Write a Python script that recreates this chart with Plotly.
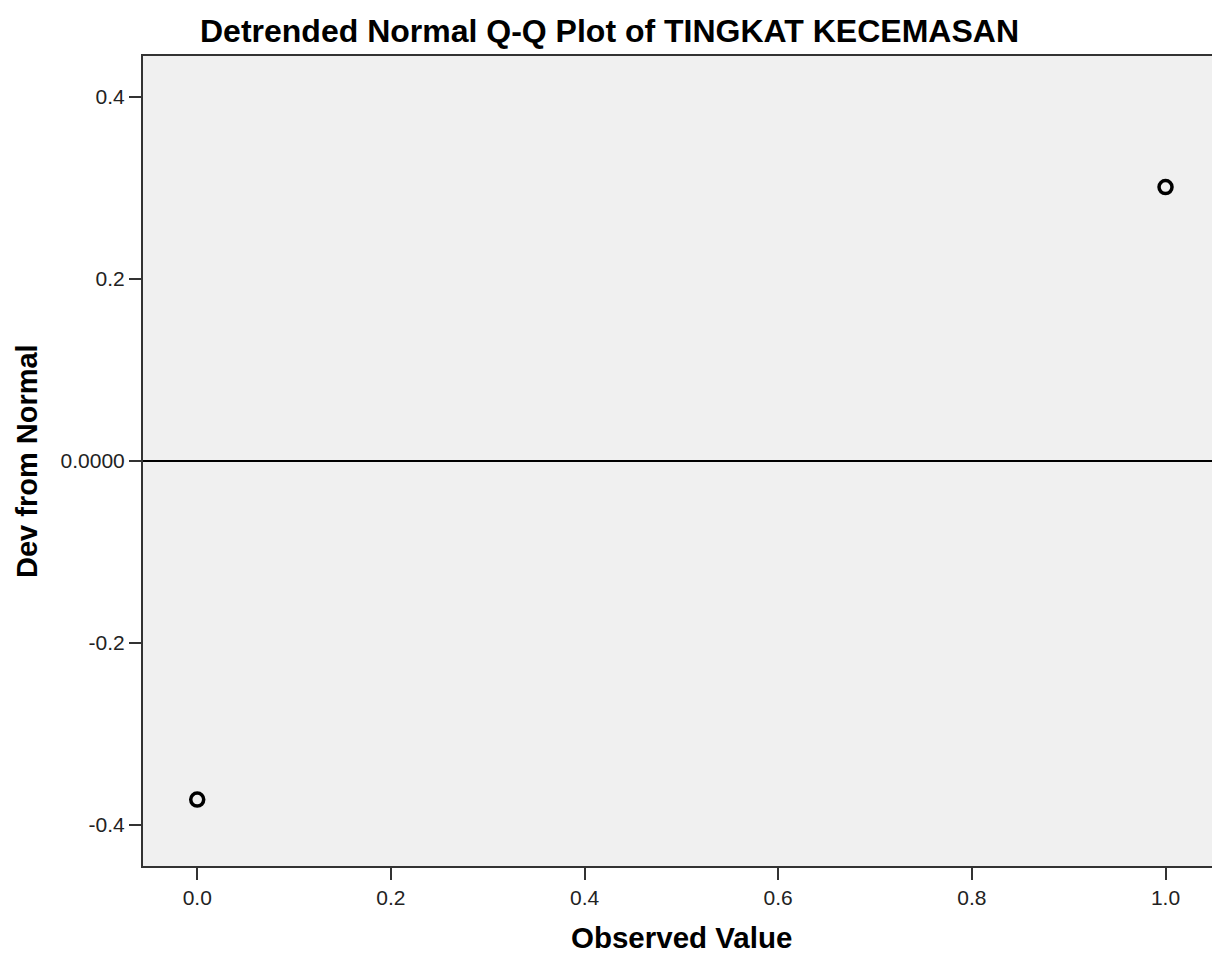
import plotly.graph_objects as go

# Detrended normal Q-Q data
observed_value = [0.0, 1.0]
dev_from_normal = [-0.372, 0.301]

y_tick_vals = [0.4, 0.2, 0.0, -0.2, -0.4]
y_tick_text = ["0.4", "0.2", "0.0000", "-0.2", "-0.4"]
x_tick_vals = [0.0, 0.2, 0.4, 0.6, 0.8, 1.0]
x_tick_text = ["0.0", "0.2", "0.4", "0.6", "0.8", "1.0"]

_FONT = "Arial, Liberation Sans, sans-serif"
_AXIS_COLOR = "#333333"

fig = go.Figure()
fig.add_trace(go.Scatter(
    x=observed_value, y=dev_from_normal,
    mode="markers",
    marker=dict(symbol="circle-open", size=13, color="black", line=dict(width=3.5)),
    showlegend=False,
    hoverinfo="x+y",
))

fig.update_xaxes(
    range=[-0.056, 1.048],
    tickvals=x_tick_vals, ticktext=x_tick_text,
    ticks="outside", ticklen=12, tickwidth=2, tickcolor=_AXIS_COLOR,
    showline=True, linecolor=_AXIS_COLOR, linewidth=2, mirror=True,
    showgrid=False, zeroline=False,
    tickfont=dict(size=21, color="#222222"),
)
fig.update_yaxes(
    range=[-0.445, 0.445],
    tickvals=y_tick_vals, ticktext=y_tick_text,
    ticks="outside", ticklen=12, tickwidth=2, tickcolor=_AXIS_COLOR,
    showline=True, linecolor=_AXIS_COLOR, linewidth=2, mirror=False,
    showgrid=False,
    zeroline=True, zerolinecolor="black", zerolinewidth=2,
    tickfont=dict(size=21, color="#222222"),
)

# Title and axis titles placed by hand to match the reference
fig.add_annotation(
    text="<b>Detrended Normal Q-Q Plot of TINGKAT KECEMASAN</b>",
    xref="paper", yref="paper", x=(609 - 143) / (1212 - 143), y=1,
    yanchor="middle", yshift=25, showarrow=False,
    font=dict(size=32, color="black"),
)
fig.add_annotation(
    text="<b>Observed Value</b>",
    xref="x", yref="paper", x=0.5, y=0,
    yanchor="middle", yshift=-71, showarrow=False,
    font=dict(size=29.5, color="black"),
)
fig.add_annotation(
    text="<b>Dev from Normal</b>",
    xref="paper", yref="y", x=0, y=0,
    xanchor="center", xshift=-116, textangle=-90, showarrow=False,
    font=dict(size=29, color="black"),
)

fig.update_layout(
    width=1212, height=958,
    margin=dict(l=143, r=0, t=56, b=92),
    plot_bgcolor="#F0F0F0",
    paper_bgcolor="white",
    font=dict(family=_FONT, size=21, color="black"),
)

# drop the default page margin so the figure fills the window exactly
fig.write_html(
    "out.html",
    config={"displayModeBar": False},
    post_script="document.body.style.margin='0';document.body.style.overflow='hidden';",
)
